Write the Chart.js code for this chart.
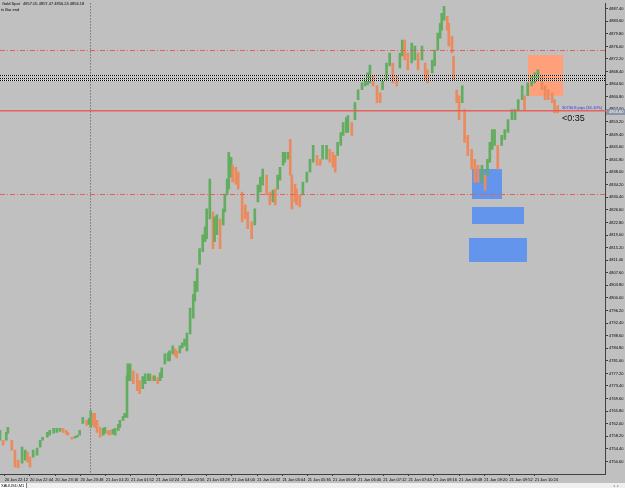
<!DOCTYPE html>
<html>
<head>
<meta charset="utf-8">
<title>XAUUSD,M1</title>
<script src="https://cdn.jsdelivr.net/npm/chart.js@4.4.1/dist/chart.umd.min.js"></script>
<style>
  body { margin: 0; background: #c0c0c0; overflow: hidden; }
  canvas { display: block; }
</style>
</head>
<body>
<canvas id="priceChart" width="625" height="488"></canvas>
<script>
// sampled M1 bars: bar index (minutes since 20 Jan 22:06, market break skipped), high, low
var bars = [0,4,8,10,15,19,23,28,32,35,38,42,47,51,54,60,63,68,72,76,
  80,84,86,91,95,98,101,105,110,113,115,118,120,123,127,131,133,137,139,143,
  146,150,152,156,158,161,162,165,169,174,177,181,184,188,190,194,196,200,203,205,
  209,213,215,219,222,224,228,231,234,237,241,245,247,250,253,257,260,262,266,270,
  272,275,279,283,285,288,290,293,295,299,302,307,311,314,319,323,327,330,333,338,
  342,346,349,352,355,359,361,365,368,370,374,376,380,384,389,393,397,402,406,409,
  414,418,422,425,428,432,435,439,441,446,450,454,459,463,466,469,473,478,482,485,
  490,494,498,503,507,510,513,517,522,526,530,535,539,542,548,551,555,558,560,563,
  567,569,573,575,579,582,586,589,593,598,602,606,611,615,618,621,624,627,631,636,
  640,644,649,653,657,662,665,669,674,678,682,687,691,695,700,703,707];

var highs = [4760.0,4757.0,4759.4,4760.9,4757.0,4754.0,4751.0,4754.9,4754.0,4753.4,
  4751.9,4754.0,4754.6,4757.0,4757.9,4759.4,4760.0,4760.6,4760.6,4760.6,
  4760.6,4760.0,4759.4,4757.9,4758.2,4758.5,4760.0,4763.9,4763.0,4763.6,
  4766.0,4765.1,4765.1,4763.0,4760.9,4760.6,4760.9,4760.0,4760.0,4760.3,
  4760.6,4761.8,4763.0,4764.2,4765.1,4776.5,4780.1,4780.1,4778.0,4777.1,
  4775.0,4776.2,4777.1,4777.1,4777.1,4776.5,4776.5,4775.9,4777.4,4778.9,
  4783.1,4783.4,4784.0,4785.5,4784.6,4784.0,4785.5,4786.4,4787.6,4789.4,
  4796.9,4801.1,4805.0,4808.9,4814.9,4819.1,4821.5,4826.9,4835.9,4826.0,
  4824.5,4825.1,4823.9,4826.9,4831.4,4835.9,4844.0,4842.5,4840.1,4839.5,
  4838.0,4832.0,4828.1,4826.0,4823.0,4826.9,4834.1,4836.5,4838.9,4837.1,
  4832.0,4832.6,4832.9,4837.1,4839.5,4844.0,4844.0,4844.0,4847.9,4837.1,
  4834.4,4832.9,4831.1,4835.0,4838.0,4841.9,4846.1,4843.1,4841.9,4846.1,
  4846.1,4844.9,4844.0,4843.1,4847.0,4850.0,4853.0,4854.5,4855.1,4853.0,
  4859.0,4862.9,4865.0,4865.9,4868.0,4870.4,4867.1,4864.1,4862.0,4865.9,
  4871.0,4874.0,4871.0,4867.1,4874.0,4877.9,4877.9,4874.0,4877.0,4876.1,
  4874.0,4876.1,4871.0,4868.9,4871.9,4874.9,4880.0,4883.0,4886.0,4888.1,
  4885.1,4883.0,4879.1,4873.1,4862.9,4861.1,4864.1,4856.9,4849.1,4844.9,
  4841.9,4840.1,4840.1,4837.1,4841.9,4847.0,4850.9,4850.9,4846.1,4849.1,
  4850.9,4853.9,4856.9,4856.9,4859.9,4864.1,4861.1,4865.0,4867.1,4868.0,
  4868.9,4867.1,4864.1,4862.9,4862.0,4859.9,4858.1];

var lows = [4757.0,4755.5,4757.0,4759.1,4754.0,4748.9,4748.6,4750.1,4751.0,4750.4,
  4748.9,4751.9,4752.5,4754.9,4757.0,4757.9,4758.5,4759.1,4759.4,4759.7,
  4759.4,4758.8,4758.5,4757.3,4757.6,4757.9,4758.5,4762.1,4761.5,4761.8,
  4760.9,4761.5,4760.9,4759.4,4757.9,4758.5,4759.1,4758.8,4758.5,4758.8,
  4758.5,4760.0,4760.9,4763.0,4763.9,4763.9,4775.0,4775.0,4774.1,4772.0,
  4771.1,4772.6,4774.1,4775.0,4775.0,4775.0,4775.0,4774.1,4775.0,4775.9,
  4780.1,4781.0,4781.0,4783.1,4782.5,4781.9,4783.4,4784.9,4785.5,4784.0,
  4789.1,4793.9,4799.0,4802.0,4810.1,4814.0,4817.0,4817.9,4823.9,4814.9,
  4817.0,4819.1,4814.9,4822.1,4826.0,4831.1,4832.9,4836.5,4835.0,4834.4,
  4832.9,4823.0,4823.9,4820.9,4817.9,4822.1,4829.0,4832.0,4834.1,4831.1,
  4828.1,4829.0,4828.1,4832.9,4835.6,4840.1,4841.0,4841.9,4837.1,4826.9,
  4829.0,4828.1,4827.5,4831.1,4835.0,4838.0,4841.0,4840.1,4840.1,4841.9,
  4841.9,4841.0,4839.5,4838.0,4843.1,4846.1,4849.1,4850.0,4850.0,4849.1,
  4853.9,4859.9,4862.9,4864.1,4864.4,4865.0,4864.1,4859.0,4859.0,4862.9,
  4865.9,4870.1,4865.0,4864.1,4869.5,4873.1,4871.9,4868.9,4871.0,4871.9,
  4868.9,4871.9,4865.9,4865.0,4868.0,4870.1,4874.9,4878.5,4880.9,4883.9,
  4880.9,4876.1,4874.0,4865.9,4859.0,4853.9,4859.0,4847.0,4843.1,4838.9,
  4835.0,4835.0,4835.0,4832.6,4837.1,4841.0,4844.9,4846.1,4838.9,4846.1,
  4847.9,4850.0,4853.9,4853.9,4856.9,4859.9,4856.9,4861.1,4864.1,4865.0,
  4865.9,4862.9,4859.9,4859.9,4859.0,4856.0,4856.0];

var timeTicks = [6,38,70,102,134,166,198,230,262,294,326,358,390,422,454,486,518,550,582,614,646,678];
var timeLabels = ["20 Jan 22:12","20 Jan 22:44","20 Jan 23:16","20 Jan 23:48","21 Jan 01:20","21 Jan 01:52",
  "21 Jan 02:24","21 Jan 02:56","21 Jan 03:28","21 Jan 04:00","21 Jan 04:32","21 Jan 05:04","21 Jan 05:36",
  "21 Jan 06:08","21 Jan 06:40","21 Jan 07:12","21 Jan 07:44","21 Jan 08:16","21 Jan 08:48","21 Jan 09:20",
  "21 Jan 09:52","21 Jan 10:24"];

var priceTicks = [];
for (var p = 4750.6; p < 4889; p += 3.8) priceTicks.push(+p.toFixed(2));

// objects on the chart
var dashLevels = [4874.8, 4831.4];
var dotLevels = [4867.3, 4866.6, 4865.9];
var bidPrice = 4856.6;
var daySeparator = 114;
var zoneStart = [670, 599, 599, 594];
var zoneEnd = [714, 637, 665, 667];
var zoneTop = [4873.4, 4838.9, 4827.5, 4818.2];
var zoneBottom = [4861.1, 4829.9, 4822.4, 4811.0];
var zoneColors = ["#ffa07a", "#6495ed", "#6495ed", "#6495ed"];

var upColor = "#62ad5f";
var downColor = "#eb8a5d";
var tinyFont = "4px 'Liberation Sans', Arial, sans-serif";

var points = [];
var colors = [];
for (var i = 0; i < bars.length; i++) {
  points.push({ x: bars[i], y: [lows[i], highs[i]] });
  var mid = (highs[i] + lows[i]) / 2;
  var prev = i > 0 ? (highs[i - 1] + lows[i - 1]) / 2 : mid;
  colors.push(mid >= prev ? upColor : downColor);
}

var overlay = {
  id: "overlay",
  beforeDraw: function (chart) {
    var c = chart.ctx;
    c.save();
    c.fillStyle = "#c0c0c0";
    c.fillRect(0, 0, chart.width, chart.height);
    c.restore();
  },
  beforeDatasetsDraw: function (chart) {
    var c = chart.ctx, xs = chart.scales.x, ys = chart.scales.y, a = chart.chartArea;
    c.save();
    // zones
    for (var k = 0; k < zoneStart.length; k++) {
      var x1 = xs.getPixelForValue(zoneStart[k]);
      var x2 = xs.getPixelForValue(zoneEnd[k]);
      var y1 = ys.getPixelForValue(zoneTop[k]);
      var y2 = ys.getPixelForValue(zoneBottom[k]);
      c.fillStyle = zoneColors[k];
      c.fillRect(Math.round(x1), Math.round(y1), Math.round(x2 - x1), Math.round(y2 - y1));
    }
    // day separator
    var sx = Math.round(xs.getPixelForValue(daySeparator)) + 0.5;
    c.strokeStyle = "#505050";
    c.lineWidth = 1;
    c.setLineDash([1, 2]);
    c.beginPath();
    c.moveTo(sx, a.top);
    c.lineTo(sx, a.bottom);
    c.stroke();
    c.restore();
  },
  afterDatasetsDraw: function (chart) {
    var c = chart.ctx, ys = chart.scales.y, a = chart.chartArea;
    c.save();
    c.lineWidth = 1;
    // dash-dot levels
    c.strokeStyle = "#e0625a";
    c.setLineDash([5, 2, 1, 2]);
    dashLevels.forEach(function (v) {
      var y = Math.round(ys.getPixelForValue(v)) + 0.5;
      c.beginPath(); c.moveTo(a.left, y); c.lineTo(a.right, y); c.stroke();
    });
    // dotted band
    dotLevels.forEach(function (v) {
      var y = Math.round(ys.getPixelForValue(v)) + 0.5;
      c.setLineDash([]);
      c.strokeStyle = "#e8e8e8";
      c.beginPath(); c.moveTo(a.left, y); c.lineTo(a.right, y); c.stroke();
      c.setLineDash([1, 1]);
      c.strokeStyle = "#000";
      c.beginPath(); c.moveTo(a.left, y); c.lineTo(a.right, y); c.stroke();
    });
    // bid line
    c.setLineDash([]);
    c.strokeStyle = "#e8605a";
    c.lineWidth = 1.5;
    var by = ys.getPixelForValue(bidPrice);
    c.beginPath(); c.moveTo(a.left, by); c.lineTo(chart.width, by); c.stroke();
    c.restore();
  },
  afterDraw: function (chart) {
    var c = chart.ctx, ys = chart.scales.y, a = chart.chartArea;
    var by = ys.getPixelForValue(bidPrice);
    c.save();
    // bid price box on the axis
    c.fillStyle = "#8a94a8";
    c.fillRect(a.right + 1, Math.round(by) - 2, 19, 6);
    c.fillStyle = "#fff";
    c.font = tinyFont;
    c.textBaseline = "middle";
    c.fillText(bidPrice.toFixed(2), a.right + 4, Math.round(by) + 1);
    // info texts
    c.fillStyle = "#3030f0";
    c.fillText("30730.8 pips (34.10%)", 562, by - 2.5);
    c.fillStyle = "#111";
    c.font = "9px 'Liberation Sans', Arial, sans-serif";
    c.textBaseline = "top";
    c.fillText("<0:35", 562, by + 3);
    c.font = tinyFont;
    c.fillStyle = "#000";
    c.fillText("Gold Spot   4857.05 4857.47 4856.24 4856.18", 2, 2);
    c.fillText("ts Bar end", 1, 8);
    // bottom tab strip
    c.fillStyle = "#f0f0f0";
    c.fillRect(0, 483, chart.width, chart.height - 483);
    c.fillStyle = "#fff";
    c.fillRect(0, 483, 26, chart.height - 483);
    c.strokeStyle = "#808080";
    c.lineWidth = 1;
    c.beginPath(); c.moveTo(26.5, 483); c.lineTo(26.5, chart.height); c.stroke();
    c.fillStyle = "#000";
    c.textBaseline = "middle";
    c.fillText("XAUUSD,M1", 1, 486);
    c.fillStyle = "#a0a0a0";
    c.fillText("\u25C2  \u25B8", 613, 486);
    c.restore();
  }
};

var ctx = document.getElementById("priceChart").getContext("2d");

var chart = new Chart(ctx, {
  type: "bar",
  data: {
    datasets: [{
      data: points,
      backgroundColor: colors,
      borderWidth: 0,
      barThickness: 2,
      grouped: false
    }]
  },
  options: {
    responsive: false,
    animation: false,
    devicePixelRatio: 1,
    layout: { padding: 0 },
    plugins: { legend: { display: false }, tooltip: { enabled: false } },
    scales: {
      x: {
        type: "linear",
        min: 0,
        max: 767,
        offset: false,
        afterBuildTicks: function (s) {
          s.ticks = timeTicks.map(function (v) { return { value: v }; });
        },
        afterFit: function (s) { s.height = 14; },
        grid: { offset: false, drawOnChartArea: false, tickLength: 2, color: "#404040" },
        border: { display: true, color: "#404040" },
        ticks: {
          autoSkip: false,
          maxRotation: 0,
          align: "start",
          padding: 1,
          color: "#000",
          font: { family: "'Liberation Sans', Arial, sans-serif", size: 4 },
          callback: function (v, i) { return timeLabels[i]; }
        }
      },
      y: {
        position: "right",
        min: 4746.8,
        max: 4889.0,
        afterBuildTicks: function (s) {
          s.ticks = priceTicks.map(function (v) { return { value: v }; });
        },
        afterFit: function (s) { s.width = 20; },
        grid: { drawOnChartArea: false, tickLength: 3, color: "#404040" },
        border: { display: true, color: "#404040" },
        ticks: {
          padding: 1,
          color: "#000",
          font: { family: "'Liberation Sans', Arial, sans-serif", size: 4 },
          callback: function (v) { return v.toFixed(2); }
        }
      }
    }
  },
  plugins: [overlay]
});
</script>
</body>
</html>
